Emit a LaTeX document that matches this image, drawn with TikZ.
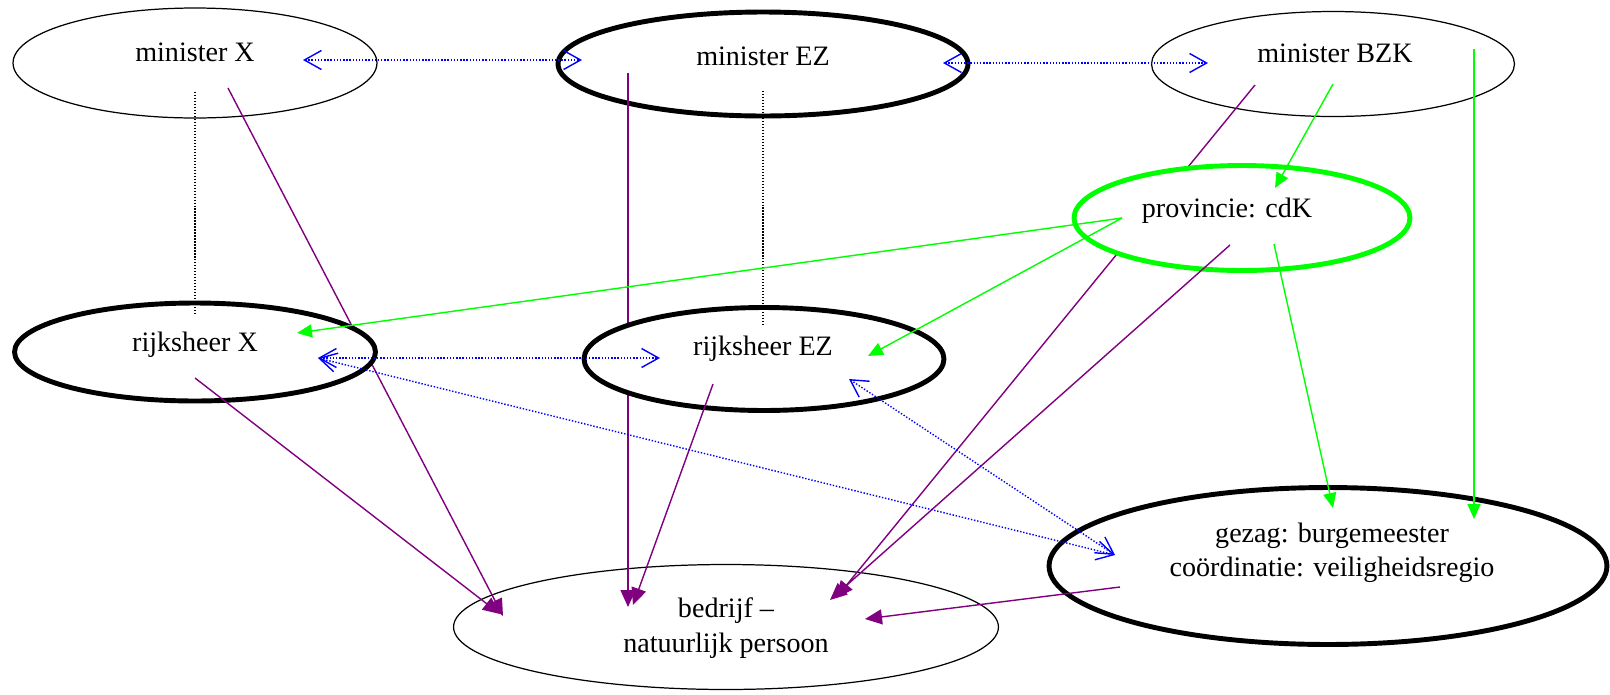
\documentclass[tikz,border=0pt]{standalone}
\usepackage{fontspec}
\setmainfont{Liberation Serif}
\usepackage{tikz}
\usetikzlibrary{arrows.meta, calc, shapes.geometric}
\definecolor{chainpurple}{RGB}{128,0,128}
\definecolor{ordergreen}{RGB}{0,255,0}

\begin{document}
\begin{tikzpicture}[x=0.02cm, y=-0.02cm,
    role/.style={ellipse, draw, fill=white, line width=0.7pt, inner sep=0pt},
    heavy/.style={role, line width=2.8pt},
    txt/.style={font=\fontsize{16}{19.5}\selectfont, align=center, inner sep=0pt},
    chain/.style={color=chainpurple, line width=0.8pt, -{Triangle[length=0.34cm, width=0.3cm]}},
    order/.style={color=ordergreen, line width=0.8pt, -{Triangle[length=0.3cm, width=0.26cm]}},
    talk/.style={color=blue, line width=0.8pt, dash pattern=on 0.8pt off 1pt,
      {Straight Barb[length=0.34cm, width=0.38cm, line width=0.8pt]}-{Straight Barb[length=0.34cm, width=0.38cm, line width=0.8pt]}},
    tie/.style={line width=0.6pt, dash pattern=on 0.7pt off 1pt}]
        \useasboundingbox (0,0) rectangle (1610,694);
        % ministers, bedrijf, gezag
        \node[role, minimum width=7.28cm, minimum height=2.2cm] (mX) at (195,63) {};
        \node[heavy, minimum width=8.2cm, minimum height=2.08cm] (mEZ) at (763,64) {};
        \node[role, minimum width=7.26cm, minimum height=2.1cm] (mBZK) at (1333,64) {};
        \node[role, minimum width=10.9cm, minimum height=2.5cm] (bd) at (726,627) {};
        \node[heavy, minimum width=11.16cm, minimum height=3.14cm] (gz) at (1328,566) {};
        % lines that run behind the ellipses of the middle row
        \draw[chain] ($(mX)+(33,25)$) -- ($(bd)+(-223,-11)$);
        \draw[chain] ($(mEZ)+(-135,9)$) -- ($(bd)+(-98,-20)$);
        \draw[chain] ($(mBZK)+(-78,21)$) -- ($(bd)+(110,-29)$);
        % middle row
        \node[heavy, minimum width=7.22cm, minimum height=1.96cm] (rX) at (195,352) {};
        \node[heavy, minimum width=7.2cm, minimum height=2.06cm] (rEZ) at (764,359) {};
        \node[heavy, draw=ordergreen, minimum width=6.72cm, minimum height=2.1cm] (prov) at (1242,218) {};
        % texts
        \node[txt] (mXt) at ($(mX)+(0,-11)$) {minister X};
        \node[txt] (mEZt) at ($(mEZ)+(0,-8)$) {minister EZ};
        \node[txt] (mBZKt) at ($(mBZK)+(2,-11)$) {minister BZK};
        \node[txt] (provt) at ($(prov)+(-15,-7)$) {provincie: cdK};
        \node[txt] (rXt) at ($(rX)+(0,-7)$) {rijksheer X};
        \node[txt] (rEZt) at ($(rEZ)+(-1,-10)$) {rijksheer EZ};
        \node[txt] (gzt) at ($(gz)+(4,-13)$) {gezag: burgemeester\\coördinatie: veiligheidsregio};
        \node[txt] (bdt) at ($(bd)+(0,1)$) {bedrijf --\\natuurlijk persoon};
        % dotted ties
        \draw[tie] ($(mX)+(0,29)$) -- ($(rX)+(0,-37)$);
        \draw[tie] ($(mEZ)+(0,27)$) -- ($(rEZ)+(-1,-33)$);
        % purple
        \draw[chain] ($(prov)+(-12,27)$) -- ($(bd)+(104,-27)$);
        \draw[chain] ($(rX)+(0,26)$) -- ($(bd)+(-226,-13)$);
        \draw[chain] ($(rEZ)+(-51,25)$) -- ($(bd)+(-93,-22)$);
        \draw[chain] ($(gz)+(-208,21)$) -- ($(bd)+(139,-8)$);
        % green
        \draw[order] ($(mBZK)+(0,20)$) -- ($(prov)+(33,-30)$);
        \draw[order] ($(mBZK)+(141,-15)$) -- ($(gz)+(146,-47)$);
        \draw[order] ($(prov)+(-120,0)$) -- ($(rX)+(102,-19)$);
        \draw[order] ($(prov)+(-120,0)$) -- ($(rEZ)+(104,-3)$);
        \draw[order] ($(prov)+(32,26)$) -- ($(gz)+(5,-58)$);
        % blue
        \draw[talk] ($(mX)+(108,-3)$) -- ($(mEZ)+(-181,-4)$);
        \draw[talk] ($(mEZ)+(180,-1)$) -- ($(mBZK)+(-125,-1)$);
        \draw[talk] ($(rX)+(123,6)$) -- ($(rEZ)+(-104,-1)$);
        \draw[talk] ($(rX)+(123,6)$) -- ($(gz)+(-213,-11)$);
        \draw[talk] ($(rEZ)+(85,20)$) -- ($(gz)+(-213,-11)$);
      \end{tikzpicture}
\end{document}
